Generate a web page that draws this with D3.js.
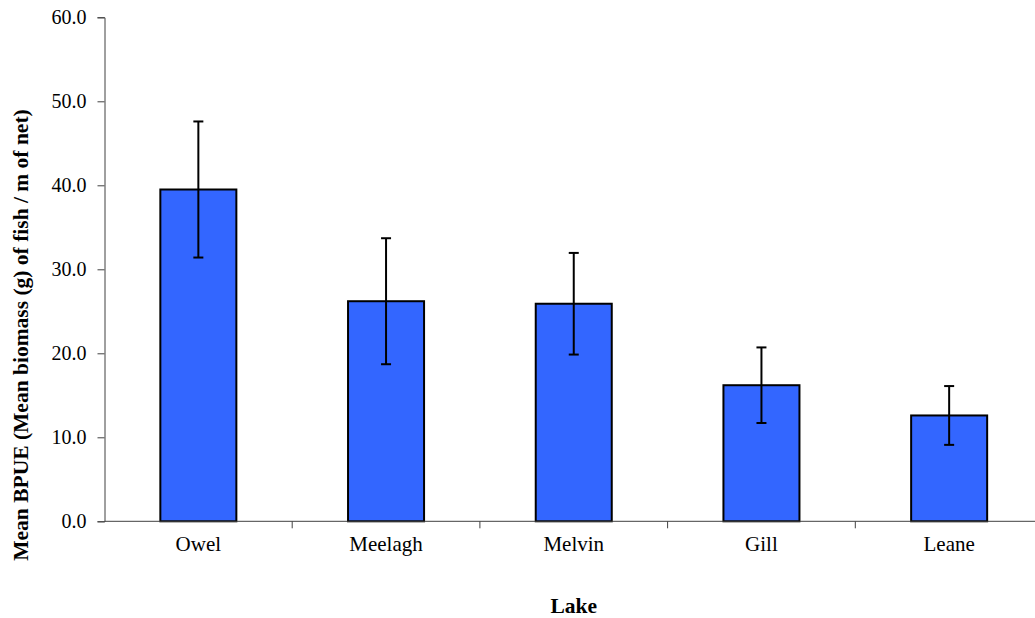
<!DOCTYPE html>
<html>
<head>
<meta charset="utf-8">
<script src="https://cdn.jsdelivr.net/npm/d3@7"></script>
<style>
  body { margin: 0; background: #fff; }
  text { font-family: "Liberation Serif", "Times New Roman", serif; fill: #000; }
</style>
</head>
<body>
<div id="chart"></div>
<script>
  // lakes and mean BPUE with +/- error
  var lakes = ["Owel", "Meelagh", "Melvin", "Gill", "Leane"];
  var meanBpue = [39.5, 26.2, 25.9, 16.2, 12.6];
  var errBpue = [8.1, 7.5, 6.05, 4.5, 3.5];
  var yTicks = [0, 10, 20, 30, 40, 50, 60];

  var w = 1035, h = 618;
  var margin = { top: 17.3, left: 104.5 };
  var plotW = 938.5, plotH = 504;
  var serif = '"Liberation Serif", "Times New Roman", serif';

  var svg = d3.select("#chart").append("svg")
      .attr("width", w)
      .attr("height", h);

  var g = svg.append("g")
      .attr("transform", "translate(" + margin.left + "," + margin.top + ")");

  var x = d3.scaleBand().domain(lakes).range([0, plotW]).padding(0);
  var y = d3.scaleLinear().domain([0, 60]).range([plotH, 0]);

  var barW = x.bandwidth() * 0.405;

  // bars
  g.selectAll("rect.bar")
      .data(lakes)
      .enter().append("rect")
      .attr("class", "bar")
      .attr("x", function(d) { return x(d) + (x.bandwidth() - barW) / 2; })
      .attr("y", function(d, i) { return y(meanBpue[i]); })
      .attr("width", barW)
      .attr("height", function(d, i) { return plotH - y(meanBpue[i]); })
      .attr("fill", "#3366ff")
      .attr("stroke", "#000")
      .attr("stroke-width", 2);

  // error bars
  var eb = g.selectAll("g.err")
      .data(lakes)
      .enter().append("g")
      .attr("class", "err")
      .attr("stroke", "#000")
      .attr("stroke-width", 2);

  eb.append("line")
      .attr("x1", function(d) { return x(d) + x.bandwidth() / 2; })
      .attr("x2", function(d) { return x(d) + x.bandwidth() / 2; })
      .attr("y1", function(d, i) { return y(meanBpue[i] + errBpue[i]); })
      .attr("y2", function(d, i) { return y(meanBpue[i] - errBpue[i]); });

  [1, -1].forEach(function(s) {
    eb.append("line")
        .attr("x1", function(d) { return x(d) + x.bandwidth() / 2 - 5; })
        .attr("x2", function(d) { return x(d) + x.bandwidth() / 2 + 5; })
        .attr("y1", function(d, i) { return y(meanBpue[i] + s * errBpue[i]); })
        .attr("y2", function(d, i) { return y(meanBpue[i] + s * errBpue[i]); });
  });

  // y axis
  var yAxis = g.append("g")
      .call(d3.axisLeft(y).tickValues(yTicks).tickFormat(d3.format(".1f")).tickSize(7).tickPadding(11));
  yAxis.attr("font-family", serif);
  yAxis.select(".domain").attr("stroke", "#404040");
  yAxis.selectAll(".tick line").attr("stroke", "#404040");
  yAxis.selectAll("text").style("font-size", "20px").style("font-family", serif).attr("fill", "#000");

  // x axis with ticks on category boundaries
  var xAxis = g.append("g")
      .attr("transform", "translate(0," + plotH + ")");
  xAxis.append("line")
      .attr("x1", 0).attr("x2", plotW)
      .attr("stroke", "#404040");
  xAxis.selectAll("line.bt")
      .data(lakes.slice(1))
      .enter().append("line")
      .attr("class", "bt")
      .attr("x1", function(d) { return x(d); })
      .attr("x2", function(d) { return x(d); })
      .attr("y1", 0).attr("y2", 7)
      .attr("stroke", "#404040");
  xAxis.selectAll("text")
      .data(lakes)
      .enter().append("text")
      .attr("x", function(d) { return x(d) + x.bandwidth() / 2; })
      .attr("y", 30)
      .attr("text-anchor", "middle")
      .style("font-family", serif)
      .style("font-size", "21px")
      .text(function(d) { return d; });

  // titles
  svg.append("text")
      .attr("x", margin.left + plotW / 2)
      .attr("y", 612.5)
      .attr("text-anchor", "middle")
      .style("font-family", serif)
      .style("font-size", "21.5px")
      .style("font-weight", "bold")
      .text("Lake");

  svg.append("text")
      .attr("transform", "translate(27.5,335) rotate(-90)")
      .attr("text-anchor", "middle")
      .style("font-family", serif)
      .style("font-size", "21.5px")
      .style("font-weight", "bold")
      .text("Mean BPUE (Mean biomass (g) of fish / m of net)");
</script>
</body>
</html>
